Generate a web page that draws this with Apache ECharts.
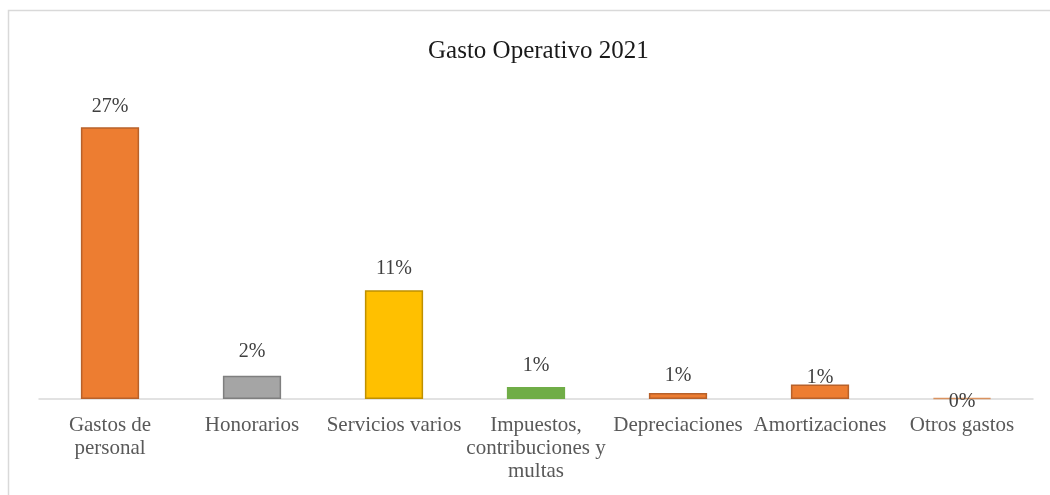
<!DOCTYPE html>
<html>
<head>
<meta charset="utf-8">
<script src="https://cdn.jsdelivr.net/npm/echarts@6/dist/echarts.min.js"></script>
<style>
html,body{margin:0;padding:0;background:#fff;}
#chart{width:1050px;height:495px;}
</style>
</head>
<body>
<div id="chart"></div>
<script>
const titleText = 'Gasto Operativo 2021';
const categories = ['Gastos de\npersonal', 'Honorarios', 'Servicios varios', 'Impuestos,\ncontribuciones y\nmultas', 'Depreciaciones', 'Amortizaciones', 'Otros gastos'];
const values = [27.0, 2.3, 10.8, 1.2, 0.6, 1.45, 0.1];

// styling (kept apart from the data)
const fillColors = ['#ED7D31', '#A5A5A5', '#FFC000', '#70AD47', '#ED7D31', '#ED7D31', '#F4A06A'];
const borderColors = ['#B8612A', '#7F7F7F', '#BF9000', '#70AD47', '#B8612A', '#B8612A', '#D9925F'];
const labelDistances = [10, 14, 12, 11, 7, -3, -14];

const serif = '"Liberation Serif", "Times New Roman", serif';

const chart = echarts.init(document.getElementById('chart'));
chart.setOption({
  animation: false,
  backgroundColor: '#ffffff',
  title: {
    text: titleText,
    left: 423,
    top: 34,
    textStyle: { fontFamily: serif, fontSize: 25, fontWeight: 'normal', color: '#1a1a1a' }
  },
  graphic: [{
    type: 'rect',
    shape: { x: 8.5, y: 10.5, width: 1200, height: 700 },
    style: { fill: 'none', stroke: '#d9d9d9', lineWidth: 1.5 },
    silent: true
  }],
  grid: { left: 39, right: 17, top: 97, bottom: 96 },
  xAxis: {
    type: 'category',
    data: categories,
    axisTick: { show: false },
    axisLine: { lineStyle: { color: '#d9d9d9', width: 1.5 } },
    axisLabel: {
      interval: 0,
      margin: 15,
      fontFamily: serif,
      fontSize: 21,
      lineHeight: 23,
      color: '#595959'
    }
  },
  yAxis: {
    type: 'value',
    min: 0,
    max: 30,
    show: false,
    splitLine: { show: false }
  },
  series: [{
    type: 'bar',
    barCategoryGap: '59%',
    data: values.map((v, i) => ({
      value: v,
      itemStyle: {
        color: fillColors[i],
        borderColor: borderColors[i],
        borderWidth: i === 3 ? 0 : 1.5
      },
      label: { distance: labelDistances[i] }
    })),
    label: {
      show: true,
      position: 'top',
      fontFamily: serif,
      fontSize: 20,
      color: '#404040',
      formatter: p => Math.round(p.value) + '%'
    }
  }]
});
</script>
</body>
</html>
